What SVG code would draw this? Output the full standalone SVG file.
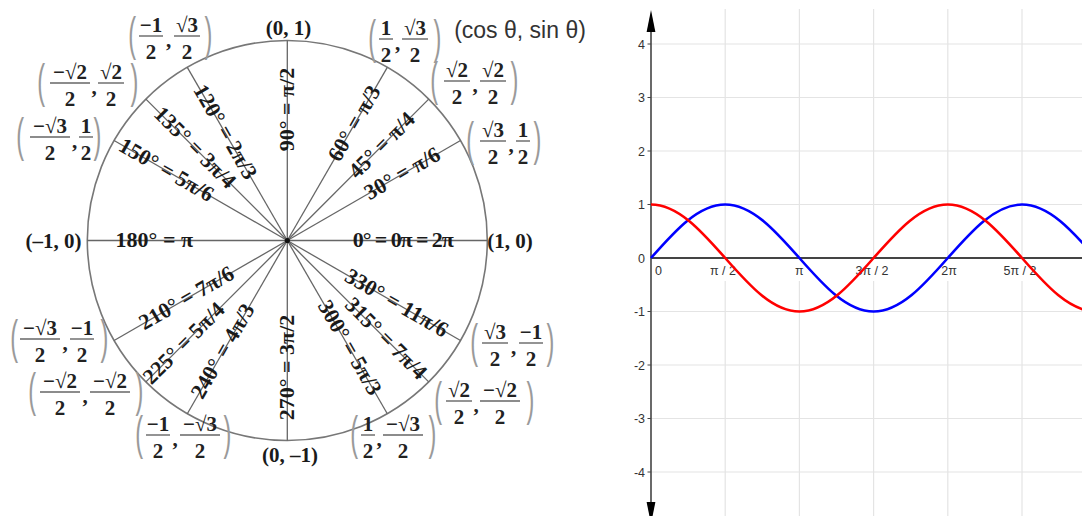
<svg xmlns="http://www.w3.org/2000/svg" width="1082" height="516" viewBox="0 0 1082 516">
<style>
.ang{font-family:"Liberation Serif",serif;font-size:22px;font-weight:bold;fill:#1a1a1a;text-anchor:middle}
.crd{font-family:"Liberation Serif",serif;font-size:21px;font-weight:bold;fill:#1a1a1a;text-anchor:middle}
.fr{font-family:"Liberation Serif",serif;font-size:21px;font-weight:bold;fill:#222;text-anchor:middle}
.par{font-family:"Liberation Sans",sans-serif;font-size:47px;fill:#9a9a9a}
.bar{stroke:#666;stroke-width:1.4}
.spoke{stroke:#666;stroke-width:1.3;fill:none}
.grid{stroke:#e4e4e4;stroke-width:1.2}
.tk{font-family:"Liberation Sans",sans-serif;font-size:12.5px;fill:#333}
.axis{stroke:#444;fill:none}
</style>
<rect width="1082" height="516" fill="#fff"/>

<!-- ===== Unit circle ===== -->
<g id="unit-circle">
<circle cx="287.3" cy="240.5" r="200" fill="none" stroke="#777" stroke-width="1.6"/>
</g>
<g id="connectors">
<line class="spoke" x1="87.3" y1="240.5" x2="487.3" y2="240.5"/>
<line class="spoke" x1="287.3" y1="40.5" x2="287.3" y2="440.5"/>
<line class="spoke" x1="287.3" y1="240.5" x2="460.5" y2="140.5"/>
<line class="spoke" x1="287.3" y1="240.5" x2="428.7" y2="99.1"/>
<line class="spoke" x1="287.3" y1="240.5" x2="387.3" y2="67.3"/>
<line class="spoke" x1="287.3" y1="240.5" x2="187.3" y2="67.3"/>
<line class="spoke" x1="287.3" y1="240.5" x2="145.9" y2="99.1"/>
<line class="spoke" x1="287.3" y1="240.5" x2="114.1" y2="140.5"/>
<line class="spoke" x1="287.3" y1="240.5" x2="114.1" y2="340.5"/>
<line class="spoke" x1="287.3" y1="240.5" x2="145.9" y2="381.9"/>
<line class="spoke" x1="287.3" y1="240.5" x2="187.3" y2="413.7"/>
<line class="spoke" x1="287.3" y1="240.5" x2="387.3" y2="413.7"/>
<line class="spoke" x1="287.3" y1="240.5" x2="428.7" y2="381.9"/>
<line class="spoke" x1="287.3" y1="240.5" x2="460.5" y2="340.5"/>
<circle cx="287.3" cy="240.5" r="2.6" fill="#111"/>
</g>

<!-- angle labels -->
<g id="angle-labels">
<g id="a0" transform="translate(403.3,240.5)"><text class="ang" y="6.5" textLength="101" lengthAdjust="spacing">0° = 0π = 2π</text></g>
<g id="a30" transform="translate(402.5,174) rotate(-30)"><text class="ang" y="6.5">30° = π/6</text></g>
<g id="a45" transform="translate(382.1,145.7) rotate(-45)"><text class="ang" y="6.5">45° = π/4</text></g>
<g id="a60" transform="translate(354.8,123.6) rotate(-60)"><text class="ang" y="6.5">60° = π/3</text></g>
<g id="a90" transform="translate(287.3,109.5) rotate(-90)"><text class="ang" y="6.5">90° = π/2</text></g>
<g id="a120" transform="translate(224.8,132.2) rotate(60)"><text class="ang" y="6.5">120° = 2π/3</text></g>
<g id="a135" transform="translate(194.7,147.9) rotate(45)"><text class="ang" y="6.5">135° = 3π/4</text></g>
<g id="a150" transform="translate(166.1,170.5) rotate(30)"><text class="ang" y="6.5">150° = 5π/6</text></g>
<g id="a180" transform="translate(154.3,240.5)"><text class="ang" y="6.5">180° = π</text></g>
<g id="a210" transform="translate(186.8,298.5) rotate(-30)"><text class="ang" y="6.5">210° = 7π/6</text></g>
<g id="a225" transform="translate(184.1,343.7) rotate(-45)"><text class="ang" y="6.5">225° = 5π/4</text></g>
<g id="a240" transform="translate(223.3,351.4) rotate(-60)"><text class="ang" y="6.5">240° = 4π/3</text></g>
<g id="a270" transform="translate(287.3,367.5) rotate(-90)"><text class="ang" y="6.5">270° = 3π/2</text></g>
<g id="a300" transform="translate(349.3,347.9) rotate(60)"><text class="ang" y="6.5">300° = 5π/3</text></g>
<g id="a315" transform="translate(385.6,338.8) rotate(45)"><text class="ang" y="6.5">315° = 7π/4</text></g>
<g id="a330" transform="translate(396.4,303.5) rotate(30)"><text class="ang" y="6.5">330° = 11π/6</text></g>
</g>

<!-- axis point labels -->
<g id="p90"><text class="crd" x="288.5" y="35">(0, 1)</text></g>
<g id="p270"><text class="crd" x="290" y="462">(0, –1)</text></g>
<g id="p180"><text class="crd" x="53.5" y="248">(–1, 0)</text></g>
<g id="p0"><text class="crd" x="510" y="248">(1, 0)</text></g>
<g id="legend"><text x="520" y="38" text-anchor="middle" font-family="Liberation Sans, sans-serif" font-size="23" fill="#333">(cos θ, sin θ)</text></g>

<!-- fraction coordinates -->
<g id="p120" transform="translate(130,13)">
<text class="par" transform="translate(-1.8,37) scale(0.5,1)">(</text><text class="par" transform="translate(74.5,37) scale(0.5,1)">)</text>
<text class="fr" x="21" y="19">−1</text><line class="bar" x1="9" y1="23" x2="33" y2="23"/><text class="fr" x="21" y="46">2</text>
<text class="fr" x="38.5" y="34">,</text>
<text class="fr" x="57" y="19">√3</text><line class="bar" x1="44" y1="23" x2="70" y2="23"/><text class="fr" x="57" y="46">2</text>
</g>
<g id="p135" transform="translate(39,60)">
<text class="par" transform="translate(-1.8,37) scale(0.5,1)">(</text><text class="par" transform="translate(91.5,37) scale(0.5,1)">)</text>
<text class="fr" x="31" y="19">−√2</text><line class="bar" x1="11" y1="23" x2="51" y2="23"/><text class="fr" x="31" y="46">2</text>
<text class="fr" x="55" y="34">,</text>
<text class="fr" x="72" y="19">√2</text><line class="bar" x1="59" y1="23" x2="85" y2="23"/><text class="fr" x="72" y="46">2</text>
</g>
<g id="p150" transform="translate(18,114)">
<text class="par" transform="translate(-1.8,37) scale(0.5,1)">(</text><text class="par" transform="translate(75.5,37) scale(0.5,1)">)</text>
<text class="fr" x="32" y="19">−√3</text><line class="bar" x1="12" y1="23" x2="52" y2="23"/><text class="fr" x="32" y="46">2</text>
<text class="fr" x="56.5" y="34">,</text>
<text class="fr" x="68" y="19">1</text><line class="bar" x1="61" y1="23" x2="75" y2="23"/><text class="fr" x="68" y="46">2</text>
</g>
<g id="p60" transform="translate(370,16)">
<text class="par" transform="translate(-1.8,37) scale(0.5,1)">(</text><text class="par" transform="translate(63.5,37) scale(0.5,1)">)</text>
<text class="fr" x="16" y="19">1</text><line class="bar" x1="9" y1="23" x2="23" y2="23"/><text class="fr" x="16" y="46">2</text>
<text class="fr" x="27.5" y="34">,</text>
<text class="fr" x="45" y="19">√3</text><line class="bar" x1="32" y1="23" x2="58" y2="23"/><text class="fr" x="45" y="46">2</text>
</g>
<g id="p45" transform="translate(432,58)">
<text class="par" transform="translate(-1.8,37) scale(0.5,1)">(</text><text class="par" transform="translate(78.5,37) scale(0.5,1)">)</text>
<text class="fr" x="25" y="19">√2</text><line class="bar" x1="12" y1="23" x2="38" y2="23"/><text class="fr" x="25" y="46">2</text>
<text class="fr" x="43" y="34">,</text>
<text class="fr" x="61" y="19">√2</text><line class="bar" x1="48" y1="23" x2="74" y2="23"/><text class="fr" x="61" y="46">2</text>
</g>
<g id="p30" transform="translate(468,118)">
<text class="par" transform="translate(-1.8,37) scale(0.5,1)">(</text><text class="par" transform="translate(65.5,37) scale(0.5,1)">)</text>
<text class="fr" x="25" y="19">√3</text><line class="bar" x1="12" y1="23" x2="38" y2="23"/><text class="fr" x="25" y="46">2</text>
<text class="fr" x="43" y="34">,</text>
<text class="fr" x="55" y="19">1</text><line class="bar" x1="48" y1="23" x2="62" y2="23"/><text class="fr" x="55" y="46">2</text>
</g>
<g id="p330" transform="translate(472,320)">
<text class="par" transform="translate(-1.8,37) scale(0.5,1)">(</text><text class="par" transform="translate(74.5,37) scale(0.5,1)">)</text>
<text class="fr" x="23" y="19">√3</text><line class="bar" x1="10" y1="23" x2="36" y2="23"/><text class="fr" x="23" y="46">2</text>
<text class="fr" x="41.5" y="34">,</text>
<text class="fr" x="59" y="19">−1</text><line class="bar" x1="47" y1="23" x2="71" y2="23"/><text class="fr" x="59" y="46">2</text>
</g>
<g id="p315" transform="translate(436,378)">
<text class="par" transform="translate(-1.8,37) scale(0.5,1)">(</text><text class="par" transform="translate(90.5,37) scale(0.5,1)">)</text>
<text class="fr" x="23" y="19">√2</text><line class="bar" x1="10" y1="23" x2="36" y2="23"/><text class="fr" x="23" y="46">2</text>
<text class="fr" x="40" y="34">,</text>
<text class="fr" x="64" y="19">−√2</text><line class="bar" x1="44" y1="23" x2="84" y2="23"/><text class="fr" x="64" y="46">2</text>
</g>
<g id="p300" transform="translate(352,412)">
<text class="par" transform="translate(-1.8,37) scale(0.5,1)">(</text><text class="par" transform="translate(76.5,37) scale(0.5,1)">)</text>
<text class="fr" x="16" y="19">1</text><line class="bar" x1="9" y1="23" x2="23" y2="23"/><text class="fr" x="16" y="46">2</text>
<text class="fr" x="27" y="34">,</text>
<text class="fr" x="51" y="19">−√3</text><line class="bar" x1="31" y1="23" x2="71" y2="23"/><text class="fr" x="51" y="46">2</text>
</g>
<g id="p240" transform="translate(137,412)">
<text class="par" transform="translate(-1.8,37) scale(0.5,1)">(</text><text class="par" transform="translate(86.5,37) scale(0.5,1)">)</text>
<text class="fr" x="21" y="19">−1</text><line class="bar" x1="9" y1="23" x2="33" y2="23"/><text class="fr" x="21" y="46">2</text>
<text class="fr" x="38" y="34">,</text>
<text class="fr" x="63" y="19">−√3</text><line class="bar" x1="43" y1="23" x2="83" y2="23"/><text class="fr" x="63" y="46">2</text>
</g>
<g id="p225" transform="translate(30,369)">
<text class="par" transform="translate(-1.8,37) scale(0.5,1)">(</text><text class="par" transform="translate(105.5,37) scale(0.5,1)">)</text>
<text class="fr" x="30" y="19">−√2</text><line class="bar" x1="10" y1="23" x2="50" y2="23"/><text class="fr" x="30" y="46">2</text>
<text class="fr" x="55" y="34">,</text>
<text class="fr" x="80" y="19">−√2</text><line class="bar" x1="60" y1="23" x2="100" y2="23"/><text class="fr" x="80" y="46">2</text>
</g>
<g id="p210" transform="translate(12,316)">
<text class="par" transform="translate(-1.8,37) scale(0.5,1)">(</text><text class="par" transform="translate(88.5,37) scale(0.5,1)">)</text>
<text class="fr" x="28" y="19">−√3</text><line class="bar" x1="8" y1="23" x2="48" y2="23"/><text class="fr" x="28" y="46">2</text>
<text class="fr" x="53" y="34">,</text>
<text class="fr" x="70" y="19">−1</text><line class="bar" x1="58" y1="23" x2="82" y2="23"/><text class="fr" x="70" y="46">2</text>
</g>

<!-- ===== Graph ===== -->
<g id="graph">
<g id="grid">
<line class="grid" x1="651" y1="44" x2="1082" y2="44"/>
<line class="grid" x1="651" y1="97.5" x2="1082" y2="97.5"/>
<line class="grid" x1="651" y1="151" x2="1082" y2="151"/>
<line class="grid" x1="651" y1="204.5" x2="1082" y2="204.5"/>
<line class="grid" x1="651" y1="311.5" x2="1082" y2="311.5"/>
<line class="grid" x1="651" y1="365" x2="1082" y2="365"/>
<line class="grid" x1="651" y1="418.5" x2="1082" y2="418.5"/>
<line class="grid" x1="651" y1="472" x2="1082" y2="472"/>
<path class="grid" d="M725.2,9V258M799.4,9V258M873.6,9V258M947.8,9V258M1022,9V258M725.2,281V516M799.4,281V516M873.6,281V516M947.8,281V516M1022,281V516"/>
</g>
<g id="axes">
<line class="axis" x1="651" y1="258" x2="1082" y2="258" stroke-width="2"/>
<line class="axis" x1="651" y1="28" x2="651" y2="505" stroke-width="1.6"/>
<polygon points="651,10 646.6,32 655.4,32" fill="#000"/>
<polygon points="646.6,502 655.4,502 651,524" fill="#000"/>
<path class="axis" stroke-width="1.2" d="M647.5,44H651M647.5,97.5H651M647.5,151H651M647.5,204.5H651M647.5,311.5H651M647.5,365H651M647.5,418.5H651M647.5,472H651"/>
</g>
<g id="ticklabels" class="tk">
<text x="645" y="48.5" text-anchor="end">4</text>
<text x="645" y="102" text-anchor="end">3</text>
<text x="645" y="155.5" text-anchor="end">2</text>
<text x="645" y="209" text-anchor="end">1</text>
<text x="645" y="262.5" text-anchor="end">0</text>
<text x="645" y="316" text-anchor="end">-1</text>
<text x="645" y="369.5" text-anchor="end">-2</text>
<text x="645" y="423" text-anchor="end">-3</text>
<text x="645" y="476.5" text-anchor="end">-4</text>
<text x="658.5" y="275" text-anchor="middle">0</text>
<text x="723" y="275" text-anchor="middle">π / 2</text>
<text x="799.4" y="275" text-anchor="middle">π</text>
<text x="872" y="275" text-anchor="middle">3π / 2</text>
<text x="949" y="275" text-anchor="middle">2π</text>
<text x="1020" y="275" text-anchor="middle">5π / 2</text>
</g>
<path id="sin" fill="none" stroke="#0000ff" stroke-width="2.6" d="M651,258 C675.2,230.59 698.35,204.5 725.2,204.5 C752.05,204.5 775.2,230.59 799.4,258 C823.6,285.41 846.75,311.5 873.6,311.5 C900.45,311.5 923.6,285.41 947.8,258 C972,230.59 995.15,204.5 1022,204.5 C1048.85,204.5 1072,230.59 1096.2,258"/>
<path id="cos" fill="none" stroke="#ff0000" stroke-width="2.6" d="M651,204.5 C677.85,204.5 701,230.59 725.2,258 C749.4,285.41 772.55,311.5 799.4,311.5 C826.25,311.5 849.4,285.41 873.6,258 C897.8,230.59 920.95,204.5 947.8,204.5 C974.65,204.5 997.8,230.59 1022,258 C1046.2,285.41 1069.35,311.5 1096.2,311.5"/>
</g>
</svg>
